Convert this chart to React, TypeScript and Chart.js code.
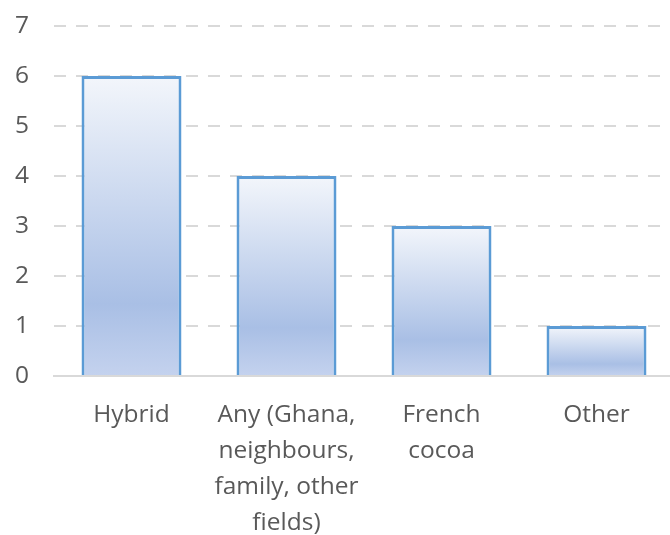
import React, { useEffect, useRef } from "react";
import { Chart, registerables } from "chart.js";

Chart.register(...registerables);

const categories: (string | string[])[] = [
  "Hybrid",
  ["Any (Ghana,", "neighbours,", "family, other", "fields)"],
  ["French", "cocoa"],
  "Other",
];
const values: number[] = [6, 4, 3, 1];
const yTicks: number[] = [0, 1, 2, 3, 4, 5, 6, 7];

const FONT = "'Open Sans', 'Noto Sans', sans-serif";
const TEXT = "#595959";
const GRID = "#d9d9d9";

export default function App() {
  const ref = useRef<HTMLCanvasElement | null>(null);

  useEffect(() => {
    if (!ref.current) return;
    const chart = new Chart(ref.current, {
      type: "bar",
      data: {
        labels: categories,
        datasets: [
          {
            data: values,
            backgroundColor: (ctx: any) => {
              const ch = ctx.chart;
              if (!ch.chartArea || ctx.type !== "data") return "#b4c7e7";
              const y = ch.scales.y;
              const top = y.getPixelForValue(ctx.raw as number);
              const bottom = y.getPixelForValue(0);
              const g = ch.ctx.createLinearGradient(0, top, 0, bottom);
              g.addColorStop(0, "#f3f6fb");
              g.addColorStop(0.76, "#a9bfe5");
              g.addColorStop(1, "#c4d2ee");
              return g;
            },
            borderColor: "#5b9bd5",
            borderWidth: 3,
            barPercentage: 1,
            categoryPercentage: 0.645,
          },
        ],
      },
      options: {
        responsive: false,
        animation: false,
        devicePixelRatio: 1,
        layout: { padding: { top: 26, right: 16, left: 0, bottom: 0 } },
        plugins: {
          legend: { display: false },
          tooltip: { enabled: false },
        },
        scales: {
          x: {
            grid: { display: false, drawTicks: false },
            border: { display: true, color: GRID, width: 2 },
            ticks: {
              color: TEXT,
              font: { family: FONT, size: 24.5, lineHeight: 1.47 },
              padding: 21,
              maxRotation: 0,
              autoSkip: false,
            },
            afterFit: (s: any) => {
              s.height = 159;
            },
          },
          y: {
            min: 0,
            max: 7,
            afterBuildTicks: (s: any) => {
              s.ticks = yTicks.map((v) => ({ value: v }));
            },
            grid: {
              color: GRID,
              lineWidth: 2,
              drawTicks: false,
            },
            border: { display: false, dash: [12, 10] },
            ticks: {
              color: TEXT,
              font: { family: FONT, size: 24.5 },
              padding: 25,
            },
            afterFit: (s: any) => {
              s.width = 54;
              s.paddingTop = 0;
              s.paddingBottom = 0;
            },
          },
        },
      },
    });
    return () => chart.destroy();
  }, []);

  return (
    <div
      style={{
        position: "absolute",
        left: 0,
        top: 0,
        width: 670,
        height: 535,
        overflow: "hidden",
        background: "#fff",
      }}
    >
      <canvas ref={ref} width={690} height={535} style={{ display: "block" }} />
    </div>
  );
}
